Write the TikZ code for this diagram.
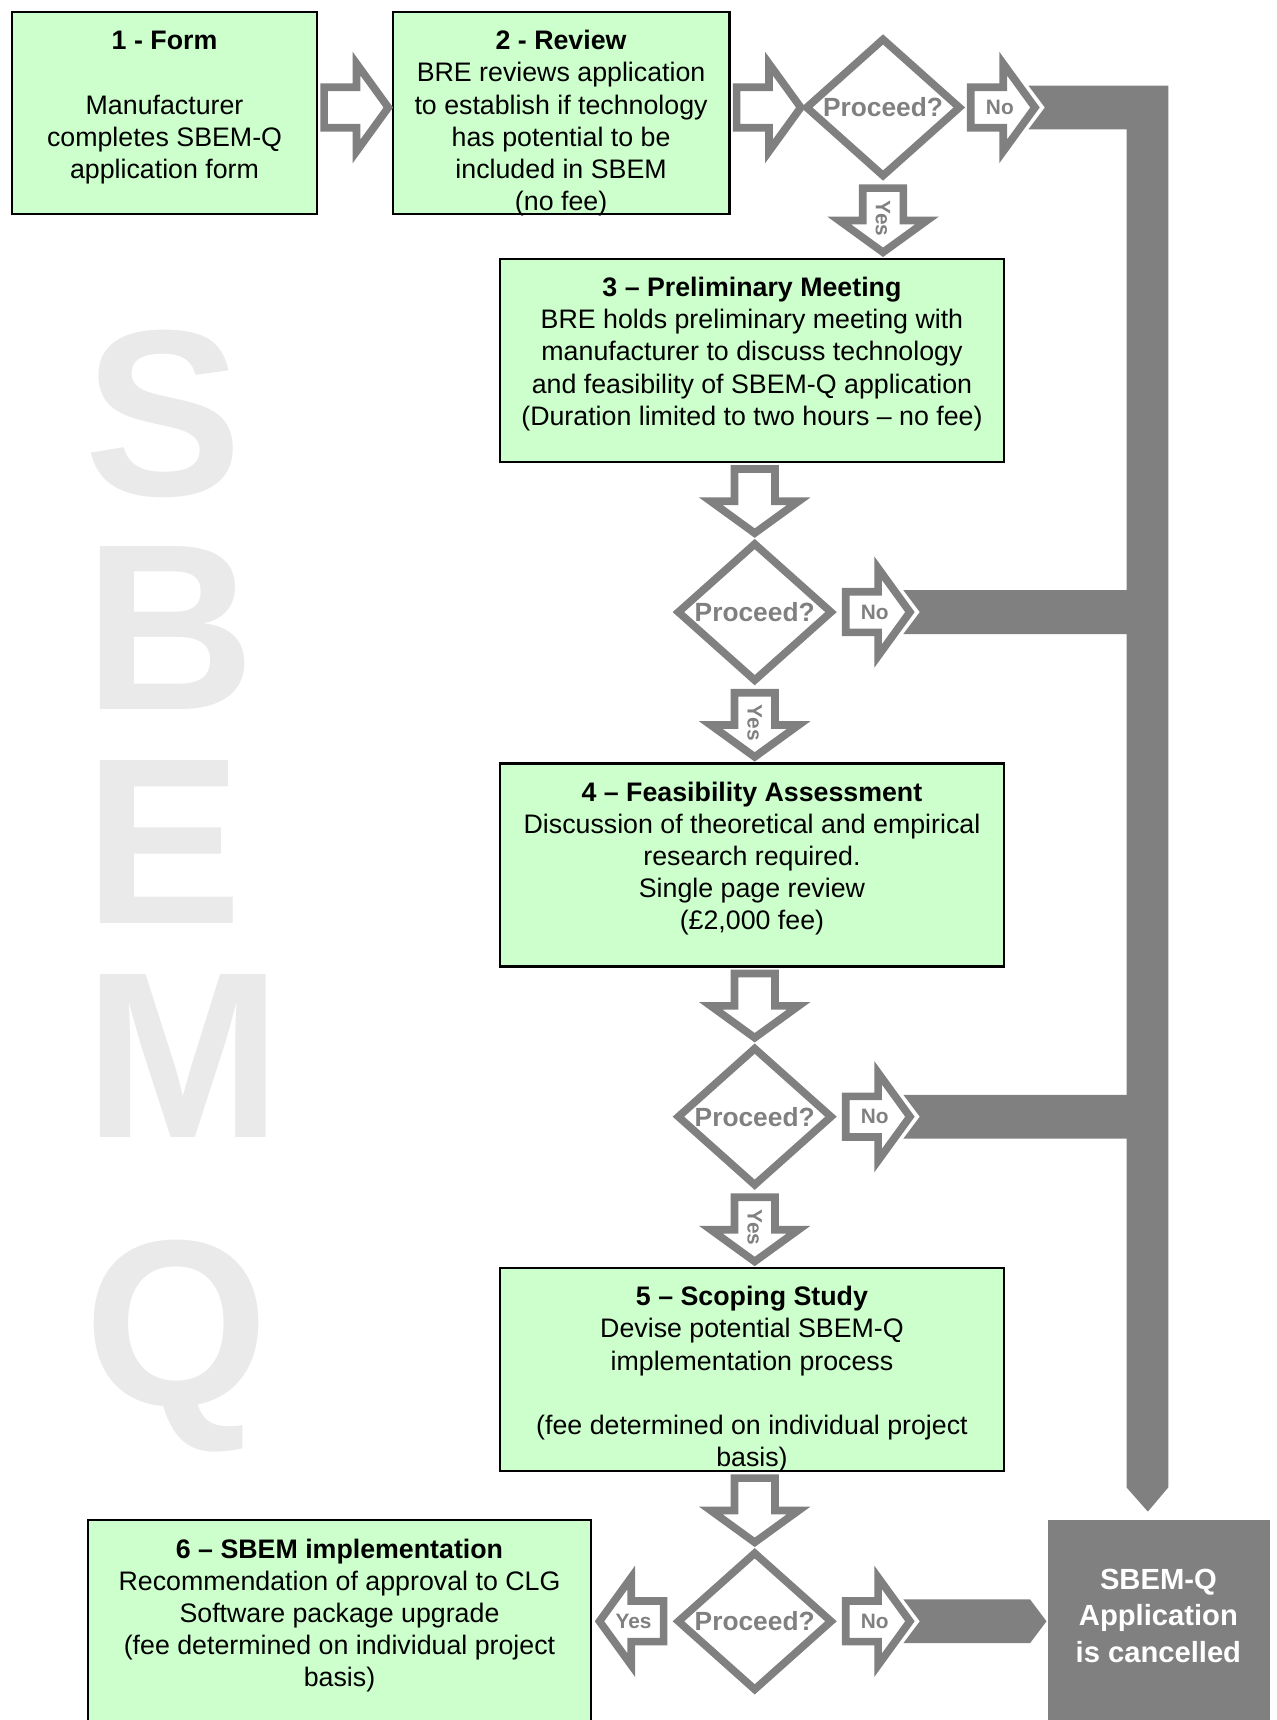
\documentclass[tikz,border=0pt]{standalone}
\usepackage{fontspec}
\setmainfont{Liberation Sans}
\usetikzlibrary{shapes.geometric,calc}
\definecolor{boxgreen}{HTML}{CCFFCC}
\definecolor{arrgray}{HTML}{808080}
\definecolor{wmgray}{HTML}{EAEAEA}
\begin{document}
\begin{tikzpicture}[x=0.5pt,y=-0.5pt,
  box/.style={draw=black, line width=1pt, fill=boxgreen, inner sep=0pt, anchor=north west},
  txt/.style={font=\fontsize{12.2}{14.65}\selectfont, align=center, inner sep=0pt, anchor=north},
  blk/.style={draw=arrgray, line width=3.5pt, fill=white, line join=miter, miter limit=10},
  dec/.style={diamond, aspect=1, draw=arrgray, line width=3.5pt, fill=white, inner sep=0pt,
    minimum width=71pt, minimum height=61pt, text=arrgray, font=\fontsize{12}{14}\selectfont\bfseries},
  lab/.style={text=arrgray, font=\fontsize{9.5}{11}\selectfont\bfseries, inner sep=0pt},
  band/.style={fill=arrgray, draw=none},
  wm/.style={text=wmgray, font=\fontsize{108}{97.5}\selectfont\bfseries, align=left, inner sep=0pt},
  rarrow/.pic={\path[blk] (3.5,-18.5) -- (33,-18.5) -- (33,-40) -- (62,0) -- (33,40) -- (33,18.5) -- (3.5,18.5) -- cycle;}
]
\useasboundingbox (0,0) rectangle (1164,1568);
\clip (0,0) rectangle (1164,1568);

% watermark
\node[wm, anchor=south west] (wSBEM) at (77,1037) {S\\B\\E\\M};
\node[wm, anchor=base west] (wQ) at (77,1281) {Q};

% boxes
\node[box, minimum width=139pt, minimum height=92pt] (b1) at (10,10) {};
\node[box, minimum width=153.5pt, minimum height=92pt] (b2) at (357,10) {};
\node[box, minimum width=229.5pt, minimum height=92.5pt] (b3) at (455,235) {};
\node[box, minimum width=229.5pt, minimum height=92.5pt] (b4) at (455,695) {};
\node[box, minimum width=229.5pt, minimum height=92.5pt] (b5) at (455,1155) {};
\node[box, minimum width=229.5pt, minimum height=100pt] (b6) at (79,1385) {};
\node[fill=arrgray, minimum width=101pt, minimum height=100pt, anchor=north west, inner sep=0pt] (bc) at (955,1385) {};

% box texts
\node[txt] (t1) at ($(b1.north)+(0,14.5)$) {\strut\textbf{1 - Form}\\\strut\\Manufacturer\\completes SBEM-Q\\application form};
\node[txt] (t2) at ($(b2.north)+(0,14.5)$) {\strut\textbf{2 - Review}\\BRE reviews application\\to establish if technology\\has potential to be\\included in SBEM\\(no fee)};
\node[txt] (t3) at ($(b3.north)+(0,14.5)$) {\strut\textbf{3 – Preliminary Meeting}\\BRE holds preliminary meeting with\\manufacturer to discuss technology\\and feasibility of SBEM-Q application\\(Duration limited to two hours – no fee)};
\node[txt] (t4) at ($(b4.north)+(0,14.5)$) {\strut\textbf{4 – Feasibility Assessment}\\Discussion of theoretical and empirical\\research required.\\Single page review\\(£2,000 fee)};
\node[txt] (t5) at ($(b5.north)+(0,14.5)$) {\strut\textbf{5 – Scoping Study}\\Devise potential SBEM-Q\\implementation process\\\strut\\(fee determined on individual project\\basis)};
\node[txt] (t6) at ($(b6.north)+(0,14.5)$) {\strut\textbf{6 – SBEM implementation}\\Recommendation of approval to CLG\\Software package upgrade\\(fee determined on individual project\\basis)};
\node[font=\fontsize{13.3}{16.5}\selectfont\bfseries, text=white, align=center, inner sep=0pt] (tc) at (1056,1473) {SBEM-Q\\Application\\is cancelled};

% decisions
\node[dec] (d1) at (805,98) {Proceed?};
\node[dec] (d2) at (688,558) {Proceed?};
\node[dec] (d3) at (688,1018) {Proceed?};
\node[dec] (d4) at (688,1478) {Proceed?};

% gray bands to the cancellation box
\coordinate (trunkEnd) at ($(bc.north)+(-10,-7)$);
\fill[band] ($(d1.east)+(58,-20)$) -- (1065,78) -- (1065,1356) -- (trunkEnd) -- (1027,1356) -- (1027,118) -- ($(d1.east)+(58,20)$) -- ($(d1.east)+(73,0)$) -- cycle;
\fill[band] ($(d2.east)+(61,-20)$) -- (1030,538) -- (1030,578) -- ($(d2.east)+(61,20)$) -- ($(d2.east)+(76,0)$) -- cycle;
\fill[band] ($(d3.east)+(61,-20)$) -- (1030,998) -- (1030,1038) -- ($(d3.east)+(61,20)$) -- ($(d3.east)+(76,0)$) -- cycle;
\fill[band] ($(d4.east)+(61,-20)$) -- ($(bc.west|-d4.east)+(-16,-20)$) -- ($(bc.west|-d4.east)+(-1,0)$) -- ($(bc.west|-d4.east)+(-16,20)$) -- ($(d4.east)+(61,20)$) -- ($(d4.east)+(76,0)$) -- cycle;

% block arrows
\pic at ($(b1.east|-d1.center)+(2,0)$) {rarrow};
\pic at ($(b2.east|-d1.center)+(2,0)$) {rarrow};
\pic at ($(d1.east)+(2,0)$) {rarrow};
\pic[rotate=-90] at ($(d1.south)+(0,3)$) {rarrow};
\pic[rotate=-90] at ($(b3.south-|d2.center)+(0,2)$) {rarrow};
\pic at ($(d2.east)+(5,0)$) {rarrow};
\pic[rotate=-90] at ($(d2.south)+(0,3)$) {rarrow};
\pic[rotate=-90] at ($(b4.south-|d3.center)+(0,2)$) {rarrow};
\pic at ($(d3.east)+(5,0)$) {rarrow};
\pic[rotate=-90] at ($(d3.south)+(0,3)$) {rarrow};
\pic[rotate=-90] at ($(b5.south-|d4.center)+(0,2)$) {rarrow};
\pic at ($(d4.east)+(5,0)$) {rarrow};
\pic[rotate=180] at ($(d4.west)+(-5,0)$) {rarrow};

% arrow labels
\node[lab] (no1) at ($(d1.east)+(32,0)$) {No};
\node[lab] (no2) at ($(d2.east)+(35,0)$) {No};
\node[lab] (no3) at ($(d3.east)+(35,0)$) {No};
\node[lab] (no4) at ($(d4.east)+(35,0)$) {No};
\node[lab, rotate=-90] (yes1) at ($(d1.south)+(0,34)$) {Yes};
\node[lab, rotate=-90] (yes2) at ($(d2.south)+(0,34)$) {Yes};
\node[lab, rotate=-90] (yes3) at ($(d3.south)+(0,34)$) {Yes};
\node[lab] (yes4) at ($(d4.west)+(-36,0)$) {Yes};
\end{tikzpicture}
\end{document}
